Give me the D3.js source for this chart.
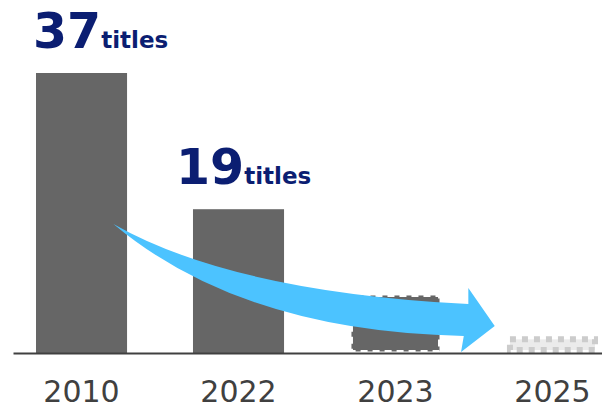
<!DOCTYPE html>
<html>
<head>
<meta charset="utf-8">
<script src="https://cdn.jsdelivr.net/npm/d3@7"></script>
<style>
  body { margin: 0; background: #fff; }
  svg { display: block; }
</style>
</head>
<body>
<script>
// chart data
var years = ['2010', '2022', '2023', '2025'];
var titles = [37, 19, 7.8, 2.2];
var valueLabels = ['37', '19', '', ''];          // only the actual years carry a label
var barKind = ['actual', 'actual', 'plan', 'target'];

var svgwidth = 602,
    svgheight = 406,
    baseY = 353,   // axis line
    topY = 73;     // top of the tallest bar

var navy = '#0b1e72',
    barGrey = '#666666',
    arrowBlue = '#4cc3ff';

var xscale = d3.scaleBand()
    .domain(years)
    .range([13, 621])
    .paddingInner(0.42)
    .paddingOuter(0.1465);

var yscale = d3.scaleLinear()
    .domain([0, d3.max(titles)])
    .range([baseY, topY]);

var bw = xscale.bandwidth();

var svg = d3.select('body')
    .append('svg')
    .attr('width', svgwidth)
    .attr('height', svgheight);

var rows = years.map(function (y, i) {
    return { year: y, value: titles[i], label: valueLabels[i], kind: barKind[i] };
});

//solid bars (actual years)
svg.selectAll('rect.actual')
    .data(rows.filter(function (d) { return d.kind === 'actual'; }))
    .enter().append('rect')
    .attr('class', 'actual')
    .attr('x', function (d) { return xscale(d.year); })
    .attr('y', function (d) { return yscale(d.value); })
    .attr('width', bw)
    .attr('height', function (d) { return yscale(0) - yscale(d.value); })
    .attr('fill', barGrey);

//dashed bars: stroke kept inside the bar outline
var dashStyle = {
    plan:   { fill: barGrey,   stroke: '#ffffff', sw: 3, dash: '7 5' },
    target: { fill: '#ebebeb', stroke: '#cccccc', sw: 6, dash: '6 6' }
};
svg.selectAll('rect.dashed')
    .data(rows.filter(function (d) { return d.kind !== 'actual'; }))
    .enter().append('rect')
    .attr('class', 'dashed')
    .attr('x', function (d) { return xscale(d.year) + dashStyle[d.kind].sw / 2; })
    .attr('y', function (d) { return yscale(d.value) + dashStyle[d.kind].sw / 2; })
    .attr('width', function (d) { return bw - dashStyle[d.kind].sw; })
    .attr('height', function (d) { return yscale(0) - yscale(d.value) - dashStyle[d.kind].sw; })
    .attr('fill', function (d) { return dashStyle[d.kind].fill; })
    .attr('stroke', function (d) { return dashStyle[d.kind].stroke; })
    .attr('stroke-width', function (d) { return dashStyle[d.kind].sw; })
    .attr('stroke-dasharray', function (d) { return dashStyle[d.kind].dash; });

//value labels "37titles" / "19titles"
var labelShift = { '2010': -3, '2022': -17 };
var lbl = svg.selectAll('text.val')
    .data(rows.filter(function (d) { return d.label !== ''; }))
    .enter().append('text')
    .attr('class', 'val')
    .attr('x', function (d) { return xscale(d.year) + labelShift[d.year]; })
    .attr('y', function (d) { return yscale(d.value) - 25; })
    .attr('fill', navy)
    .attr('font-family', 'DejaVu Sans, Verdana, sans-serif')
    .attr('font-weight', 'bold');
lbl.append('tspan')
    .attr('font-size', '49px')
    .text(function (d) { return d.label; });
lbl.append('tspan')
    .attr('font-size', '23px')
    .text('titles');

//curved arrow, placed relative to the bands and the value scale
function pt(year, f, v) {
    return (xscale(year) + f * bw) + ',' + yscale(v);
}
var arrowPath = 'M' + pt('2010', 0.85, 17.05) +
    ' Q' + pt('2022', 0.43, 8.1) + ' ' + pt('2023', 1.3, 6.47) +
    ' L' + pt('2023', 1.3, 8.6) +
    ' L' + pt('2023', 1.59, 3.57) +
    ' L' + pt('2023', 1.22, 0.13) +
    ' L' + pt('2023', 1.25, 2.25) +
    ' Q' + pt('2022', 0.54, 2.8) + ' ' + pt('2010', 0.85, 17.05) + ' Z';
svg.append('path')
    .attr('d', arrowPath)
    .attr('fill', arrowBlue);

//x axis: baseline + year labels
var xaxis = d3.axisBottom(xscale)
    .tickSize(0)
    .tickPadding(28);
var gx = svg.append('g')
    .attr('transform', 'translate(0,' + baseY + ')')
    .call(xaxis);
gx.select('.domain')
    .attr('stroke', '#404040')
    .attr('stroke-width', 2);
gx.selectAll('text')
    .attr('fill', '#404040')
    .attr('font-family', 'DejaVu Sans, Verdana, sans-serif')
    .attr('font-size', '30px');
</script>
</body>
</html>
